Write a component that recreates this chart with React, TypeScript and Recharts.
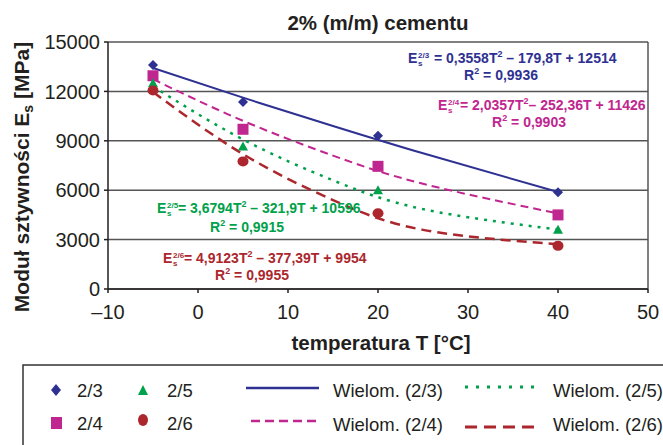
import React from 'react';
import { ComposedChart, Line, Scatter, XAxis, YAxis, CartesianGrid, ReferenceLine } from 'recharts';

const FONT = '"Liberation Sans", Arial, sans-serif';

// measured points
const temps = [-5, 5, 20, 40];
const e23 = [13600, 11350, 9300, 5880];
const e24 = [12950, 9700, 7450, 4500];
const e25 = [12500, 8650, 6000, 3600];
const e26 = [12050, 7750, 4600, 2620];

// polynomial trend lines
const trendT = [-5, 5, 15, 25, 40];
const fit23 = [13420, 11620, 9900, 8240, 5890];
const fit24 = [12740, 10215, 8100, 6390, 4590];
const fit25 = [12300, 9080, 6600, 4850, 3610];
const fit26 = [11960, 8190, 5400, 3590, 2720];

const xTicks = [-10, 0, 10, 20, 30, 40, 50];
const yTicks = [0, 3000, 6000, 9000, 12000, 15000];

const BLUE = '#2e3192';
const PINK = '#c0268f';
const GREEN = '#00a14b';
const RED = '#ab272d';
const INK = '#231f20';

const toPts = (xs: number[], ys: number[]) => xs.map((x, i) => ({ x, y: ys[i] }));

const Diamond = (p: any) => (
  <polygon points={`${p.cx},${p.cy - 5} ${p.cx + 5},${p.cy} ${p.cx},${p.cy + 5} ${p.cx - 5},${p.cy}`} fill={BLUE} />
);
const Square = (p: any) => <rect x={p.cx - 5.5} y={p.cy - 5.5} width={11} height={11} fill={PINK} />;
const Triangle = (p: any) => (
  <polygon points={`${p.cx},${p.cy - 5} ${p.cx + 5},${p.cy + 4} ${p.cx - 5},${p.cy + 4}`} fill={GREEN} />
);
const Dot = (p: any) => <ellipse cx={p.cx} cy={p.cy} rx={5.5} ry={5} fill={RED} />;

const Eq = ({ x, y, color, sup, gap, a, b }: any) => (
  <g fill={color} fontWeight="bold" fontSize={14}>
    <text x={x} y={y}>E</text>
    <text x={x + 10} y={y - 5} fontSize={8}>{sup}</text>
    <text x={x + 10} y={y + 3} fontSize={8}>s</text>
    <text x={x + gap} y={y}>
      {a}
      <tspan dy={-6} fontSize={9}>2</tspan>
      <tspan dy={6}>{b}</tspan>
    </text>
  </g>
);

const R2 = ({ x, y, color, v }: any) => (
  <text x={x} y={y} fill={color} fontWeight="bold" fontSize={14} textAnchor="middle">
    R<tspan dy={-6} fontSize={9}>2</tspan>
    <tspan dy={6}>{` = ${v}`}</tspan>
  </text>
);

export default function App() {
  return (
    <div style={{ position: 'absolute', left: 0, top: 0, width: 663, height: 445, overflow: 'hidden', background: '#fff', fontFamily: FONT }}>
      <ComposedChart width={663} height={445} margin={{ top: 42, right: 15, bottom: 126, left: 0 }}>
        <CartesianGrid horizontal vertical={false} stroke="#555" strokeWidth={1.5} />
        <XAxis
          type="number"
          dataKey="x"
          domain={[-10, 50]}
          ticks={xTicks}
          height={30}
          tickSize={4}
          tickMargin={12}
          tickFormatter={(v: number) => (v < 0 ? '\u2013' + Math.abs(v) : String(v))}
          tick={{ fill: INK, fontSize: 20, fontFamily: FONT }}
          axisLine={{ stroke: INK, strokeWidth: 1.5 }}
          tickLine={{ stroke: INK, strokeWidth: 1.5 }}
        />
        <YAxis
          type="number"
          dataKey="y"
          domain={[0, 15000]}
          ticks={yTicks}
          width={108}
          tickSize={4}
          tickMargin={4}
          tick={{ fill: INK, fontSize: 20, fontFamily: FONT }}
          axisLine={{ stroke: INK, strokeWidth: 1.5 }}
          tickLine={{ stroke: INK, strokeWidth: 1.5 }}
        />
        <ReferenceLine x={50} stroke="#555" strokeWidth={1.5} />
        <Line data={toPts(trendT, fit23)} dataKey="y" type="natural" stroke={BLUE} strokeWidth={2} dot={false} isAnimationActive={false} />
        <Line data={toPts(trendT, fit24)} dataKey="y" type="natural" stroke={PINK} strokeWidth={2} strokeDasharray="8 5" dot={false} isAnimationActive={false} />
        <Line data={toPts(trendT, fit25)} dataKey="y" type="natural" stroke={GREEN} strokeWidth={2.5} strokeDasharray="3 6" dot={false} isAnimationActive={false} />
        <Line data={toPts(trendT, fit26)} dataKey="y" type="natural" stroke={RED} strokeWidth={2.5} strokeDasharray="10 6" dot={false} isAnimationActive={false} />
        <Scatter data={toPts(temps, e23)} dataKey="y" fill={BLUE} shape={Diamond} isAnimationActive={false} />
        <Scatter data={toPts(temps, e24)} dataKey="y" fill={PINK} shape={Square} isAnimationActive={false} />
        <Scatter data={toPts(temps, e25)} dataKey="y" fill={GREEN} shape={Triangle} isAnimationActive={false} />
        <Scatter data={toPts(temps, e26)} dataKey="y" fill={RED} shape={Dot} isAnimationActive={false} />
      </ComposedChart>

      <svg width={663} height={445} style={{ position: 'absolute', left: 0, top: 0, pointerEvents: 'none' }} fontFamily={FONT}>
        <text x={378} y={30} textAnchor="middle" fontWeight="bold" fontSize={20.5} fill={INK}>2% (m/m) cementu</text>
        <text x={381} y={350} textAnchor="middle" fontWeight="bold" fontSize={20.5} fill={INK}>temperatura T [°C]</text>
        <text transform="translate(29,177) rotate(-90)" textAnchor="middle" fontWeight="bold" fontSize={21} fill={INK}>
          Moduł sztywności E<tspan dy={4} fontSize={14}>s</tspan>
          <tspan dy={-4}> [MPa]</tspan>
        </text>

        <Eq x={408} y={63} color={BLUE} sup="2/3" gap={26} a="= 0,3558T" b=" – 179,8T + 12514" />
        <R2 x={501} y={80} color={BLUE} v="0,9936" />
        <Eq x={438} y={110} color={PINK} sup="2/4" gap={22} a="= 2,0357T" b="– 252,36T + 11426" />
        <R2 x={529} y={127} color={PINK} v="0,9903" />
        <Eq x={157} y={213} color={GREEN} sup="2/5" gap={21} a="= 3,6794T" b=" – 321,9T + 10596" />
        <R2 x={247} y={232} color={GREEN} v="0,9915" />
        <Eq x={163} y={263} color={RED} sup="2/6" gap={21} a="= 4,9123T" b=" – 377,39T + 9954" />
        <R2 x={252} y={280} color={RED} v="0,9955" />

        <rect x={23} y={365} width={700} height={120} fill="none" stroke="#333" strokeWidth={1.5} />
        <g fontSize={18.5} fill={INK}>
          <polygon points="56,384 61,390 56,396 51,390" fill={BLUE} />
          <text x={77} y={397}>2/3</text>
          <rect x={51} y={417} width={11} height={12} fill={PINK} />
          <text x={77} y={430}>2/4</text>
          <polygon points="143,385 148,395 138,395" fill={GREEN} />
          <text x={167} y={397}>2/5</text>
          <ellipse cx={143} cy={420} rx={5} ry={6} fill={RED} />
          <text x={167} y={430}>2/6</text>

          <line x1={246} y1={388} x2={319} y2={388} stroke={BLUE} strokeWidth={2.5} />
          <text x={333} y={397}>Wielom. (2/3)</text>
          <line x1={251} y1={421} x2={320} y2={421} stroke={PINK} strokeWidth={2.5} strokeDasharray="9 5" />
          <text x={333} y={431}>Wielom. (2/4)</text>
          <line x1={465} y1={387} x2={538} y2={387} stroke={GREEN} strokeWidth={3} strokeDasharray="3 8" />
          <text x={553} y={397}>Wielom. (2/5)</text>
          <line x1={465} y1={427} x2={538} y2={427} stroke={RED} strokeWidth={3} strokeDasharray="12 7" />
          <text x={553} y={431}>Wielom. (2/6)</text>
        </g>
      </svg>
    </div>
  );
}
